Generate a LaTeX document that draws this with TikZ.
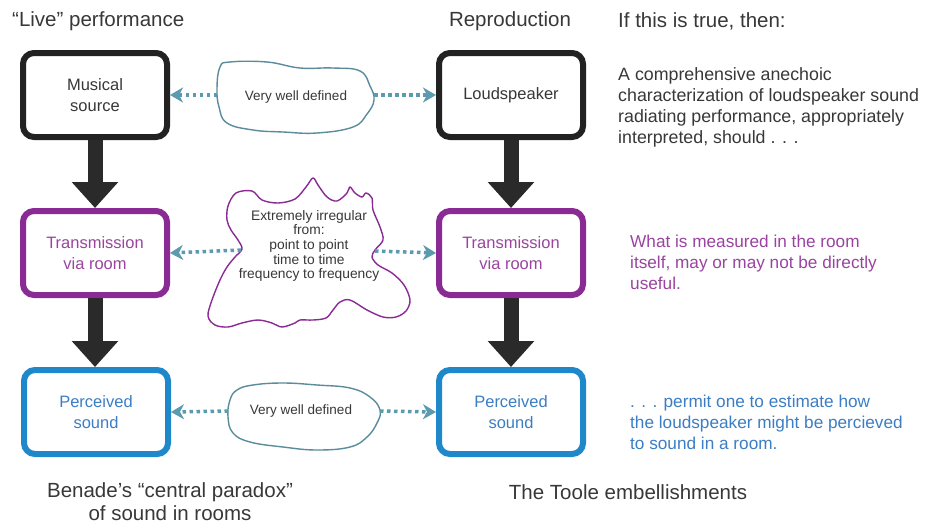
\documentclass[tikz,border=0pt]{standalone}
\usepackage{fontspec}
\setmainfont{Liberation Sans}
\usetikzlibrary{arrows.meta}

\definecolor{inkgray}{HTML}{383838}
\definecolor{boxblack}{HTML}{222222}
\definecolor{arrowblack}{HTML}{2A2A2A}
\definecolor{roompurple}{HTML}{8A2A94}
\definecolor{roomtext}{HTML}{9A44A0}
\definecolor{earblue}{HTML}{1F88CA}
\definecolor{eartext}{HTML}{3C7EC4}
\definecolor{linkteal}{HTML}{5C9AB0}
\definecolor{cloudteal}{HTML}{5A8C9C}

\tikzset{
  stage/.style={draw, rounded corners=11pt, line width=6pt,
    minimum width=144pt, minimum height=84pt, fill=white, align=center,
    inner sep=0pt, font=\fontsize{16.5}{21}\selectfont},
  darkbox/.style={stage, draw=boxblack, text=inkgray},
  roombox/.style={stage, draw=roompurple, text=roomtext},
  earbox/.style={stage, draw=earblue, text=eartext},
  flow/.style={draw=arrowblack, line width=15pt,
    -{Triangle[length=26pt,width=45pt]}},
  link/.style={draw=linkteal, line width=3.5pt, dash pattern=on 3.5pt off 3.5pt,
    -{Stealth[length=13pt,width=15pt,inset=4pt]}},
  cloudline/.style={line width=1.4pt, line join=round},
  cloudtext/.style={text=inkgray, align=center, inner sep=0pt,
    font=\fontsize{13.5}{17.5}\selectfont},
  heading/.style={text=inkgray, inner sep=0pt, font=\fontsize{20.5}{23}\selectfont},
  remark/.style={inner sep=0pt, align=left, anchor=west},
}

\begin{document}
\begin{tikzpicture}[x=1pt, y=-1pt]
\fill[white] (0,0) rectangle (931,525);
\useasboundingbox (0,0) rectangle (931,525);

% column headings
\node[heading, anchor=west] (hlive) at (12,21) {“Live” performance};
\node[heading] (hrepro) at (510,21) {Reproduction};
\node[heading, anchor=west] (hthen) at (618,21) {If this is true, then:};

% the two chains of stages
\node[darkbox] (src) at (95,95) {Musical\\source};
\node[darkbox] (spk) at (511,95) {Loudspeaker};
\node[roombox] (roomL) at (95,253) {Transmission\\via room};
\node[roombox] (roomR) at (511,253) {Transmission\\via room};
\node[earbox] (earL) at (96,412) {Perceived\\sound};
\node[earbox] (earR) at (511,412) {Perceived\\sound};

\draw[flow] (src.south) -- (roomL.north);
\draw[flow] (roomL.south) -- (roomL.south |- earL.north);
\draw[flow] (spk.south) -- (roomR.north);
\draw[flow] (roomR.south) -- (earR.north);

% upper cloud
\draw[cloudline, draw=cloudteal, fill=white] plot[smooth cycle, tension=0.7] coordinates {
  (220,67) (230,62) (267,62) (300,68) (333,68) (360,71) (370,86) (374,100)
  (367,114) (353,127) (317,133) (283,132) (253,130) (227,123) (219,107) (217,88)};
\node[cloudtext] (wd1) at (296,97) {Very well defined};
\coordinate (wd1w) at (217,95);
\coordinate (wd1e) at (374,95);
\draw[link] (wd1w) -- (src.east);
\draw[link] (wd1e) -- (spk.west);

% irregular room cloud
\draw[cloudline, draw=roompurple, fill=white] plot[smooth cycle, tension=0.55] coordinates {
  (236,193) (252,191) (262,200) (278,203) (295,199) (306,187) (313,178)
  (318,185) (327,197) (337,201) (347,193) (350,187) (355,193) (362,197)
  (366,193) (372,198) (373,210) (380,227) (383,240) (375,250) (372,257)
  (378,265) (392,273) (404,285) (410,300) (406,311) (396,317) (383,317)
  (367,310) (350,300) (340,302) (333,310) (326,318) (313,320) (300,320)
  (295,323) (282,327) (272,323) (258,320) (242,323) (228,327) (215,325)
  (208,316) (212,300) (220,280) (227,267) (235,257) (242,249) (238,240)
  (231,230) (227,220) (228,206)};
\node[cloudtext, font=\fontsize{13.8}{14.6}\selectfont] (irr) at (309,246)
  {Extremely irregular\\from:\\point to point\\time to time\\frequency to frequency};
\coordinate (irrw) at (241,250);
\coordinate (irre) at (375,251);
\draw[link] (irrw) -- (roomL.east);
\draw[link] (irre) -- (roomR.west);

% lower cloud
\draw[cloudline, draw=cloudteal, fill=white] plot[smooth cycle, tension=0.7] coordinates {
  (230,400) (237,390) (253,385) (283,383) (317,385) (350,388) (370,397)
  (380,410) (377,423) (367,437) (350,447) (317,450) (283,447) (250,442)
  (233,433) (228,417)};
\node[cloudtext] (wd2) at (301,411) {Very well defined};
\coordinate (wd2w) at (228,411);
\coordinate (wd2e) at (380,411);
\draw[link] (wd2w) -- (earL.east);
\draw[link] (wd2e) -- (earR.west);

% consequences, one per row
\node[remark, text=inkgray, font=\fontsize{17.8}{21}\selectfont] (rtop) at (618,107)
  {A comprehensive anechoic\\characterization of loudspeaker sound\\radiating performance, appropriately\\interpreted, should . . .};
\node[remark, text=roomtext, font=\fontsize{17.2}{21}\selectfont] (rmid) at (630,262)
  {What is measured in the room\\itself, may or may not be directly\\useful.};
\node[remark, text=eartext, font=\fontsize{17.2}{21}\selectfont] (rlow) at (630,422)
  {. . . permit one to estimate how\\the loudspeaker might be percieved\\to sound in a room.};

% captions
\node[heading, align=center] (capL) at (170,502) {Benade’s “central paradox”\\of sound in rooms};
\node[heading] (capR) at (628,492) {The Toole embellishments};
\end{tikzpicture}
\end{document}
